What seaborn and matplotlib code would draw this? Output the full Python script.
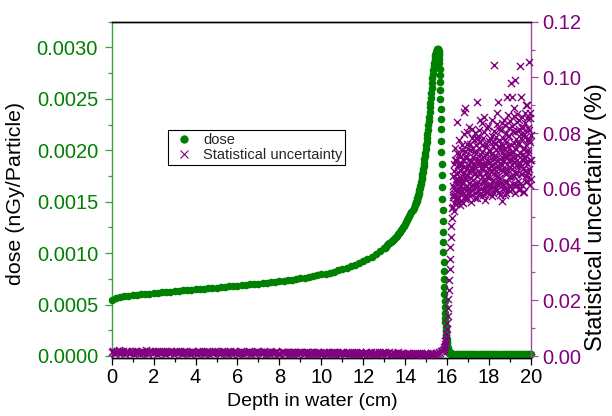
import numpy as np
import pandas as pd
import seaborn as sns
import matplotlib
matplotlib.use("Agg")
import matplotlib.pyplot as plt
from matplotlib.ticker import MultipleLocator, FormatStrFormatter
from matplotlib.lines import Line2D

# ---------------- data ----------------
# dose, units nGy/Particle
dose_depth_a = np.round(np.arange(0.0, 12.81, 0.2), 2)        # 65 pts
dose_a = [5.40e-4, 5.66e-4, 5.76e-4, 5.82e-4, 5.87e-4, 5.91e-4, 5.95e-4, 5.99e-4, 6.03e-4, 6.07e-4,
          6.11e-4, 6.15e-4, 6.19e-4, 6.22e-4, 6.26e-4, 6.30e-4, 6.33e-4, 6.37e-4, 6.41e-4, 6.44e-4,
          6.48e-4, 6.51e-4, 6.55e-4, 6.58e-4, 6.62e-4, 6.65e-4, 6.69e-4, 6.72e-4, 6.76e-4, 6.79e-4,
          6.83e-4, 6.87e-4, 6.91e-4, 6.95e-4, 6.99e-4, 7.03e-4, 7.07e-4, 7.11e-4, 7.15e-4, 7.19e-4,
          7.24e-4, 7.30e-4, 7.36e-4, 7.42e-4, 7.48e-4, 7.55e-4, 7.61e-4, 7.68e-4, 7.75e-4, 7.83e-4,
          7.92e-4, 8.01e-4, 8.11e-4, 8.21e-4, 8.32e-4, 8.45e-4, 8.58e-4, 8.72e-4, 8.87e-4, 9.04e-4,
          9.22e-4, 9.42e-4, 9.64e-4, 9.89e-4, 10.16e-4]
dose_depth_b = np.round(np.arange(13.0, 14.501, 0.05), 2)      # 31 pts
dose_b = [10.45e-4, 10.54e-4, 10.64e-4, 10.74e-4, 10.84e-4, 10.94e-4, 11.05e-4, 11.15e-4, 11.26e-4, 11.37e-4,
          11.48e-4, 11.60e-4, 11.71e-4, 11.83e-4, 11.95e-4, 12.08e-4, 12.21e-4, 12.36e-4, 12.52e-4, 12.68e-4,
          12.85e-4, 13.03e-4, 13.21e-4, 13.40e-4, 13.59e-4, 13.79e-4, 14.00e-4, 14.21e-4, 14.43e-4, 14.66e-4,
          14.90e-4]
dose_depth_c = np.round(np.arange(14.52, 15.561, 0.02), 2)     # 53 pts
dose_c = [15.00e-4, 15.10e-4, 15.21e-4, 15.33e-4, 15.47e-4, 15.61e-4, 15.77e-4, 15.93e-4, 16.11e-4, 16.30e-4,
          16.50e-4, 16.71e-4, 16.93e-4, 17.17e-4, 17.41e-4, 17.67e-4, 17.93e-4, 18.21e-4, 18.50e-4, 18.80e-4,
          19.11e-4, 19.43e-4, 19.77e-4, 20.11e-4, 20.47e-4, 20.83e-4, 21.21e-4, 21.60e-4, 22.00e-4, 22.41e-4,
          22.83e-4, 23.27e-4, 23.71e-4, 24.17e-4, 24.63e-4, 25.11e-4, 25.60e-4, 26.10e-4, 26.58e-4, 27.03e-4,
          27.45e-4, 27.83e-4, 28.18e-4, 28.50e-4, 28.78e-4, 29.03e-4, 29.25e-4, 29.43e-4, 29.58e-4, 29.70e-4,
          29.78e-4, 29.83e-4, 29.85e-4]
dose_depth_d = np.round(np.arange(15.57, 16.201, 0.01), 2)     # 64 pts
dose_d = [29.84e-4, 29.78e-4, 29.66e-4, 29.48e-4, 29.22e-4, 28.88e-4, 28.45e-4, 27.93e-4, 27.32e-4, 26.62e-4,
          25.84e-4, 24.98e-4, 24.05e-4, 23.06e-4, 22.02e-4, 20.94e-4, 19.83e-4, 18.70e-4, 17.56e-4, 16.42e-4,
          15.29e-4, 14.18e-4, 13.10e-4, 12.05e-4, 11.04e-4, 10.08e-4, 9.16e-4, 8.29e-4, 7.48e-4, 6.72e-4,
          6.01e-4, 5.36e-4, 4.76e-4, 4.21e-4, 3.71e-4, 3.26e-4, 2.85e-4, 2.48e-4, 2.15e-4, 1.86e-4,
          1.60e-4, 1.37e-4, 1.17e-4, 0.99e-4, 0.85e-4, 0.74e-4, 0.64e-4, 0.56e-4, 0.50e-4, 0.44e-4,
          0.39e-4, 0.35e-4, 0.32e-4, 0.30e-4, 0.28e-4, 0.27e-4, 0.26e-4, 0.25e-4, 0.25e-4, 0.24e-4,
          0.24e-4, 0.24e-4, 0.23e-4, 0.23e-4]
dose_depth_e = np.round(np.arange(16.3, 20.001, 0.1), 2)       # 38 pts
dose_e = [0.23e-4, 0.23e-4, 0.22e-4, 0.22e-4, 0.22e-4, 0.22e-4, 0.22e-4, 0.21e-4, 0.21e-4, 0.21e-4,
          0.21e-4, 0.21e-4, 0.21e-4, 0.21e-4, 0.20e-4, 0.20e-4, 0.20e-4, 0.20e-4, 0.20e-4, 0.20e-4,
          0.20e-4, 0.20e-4, 0.20e-4, 0.20e-4, 0.19e-4, 0.19e-4, 0.19e-4, 0.19e-4, 0.19e-4, 0.19e-4,
          0.19e-4, 0.19e-4, 0.19e-4, 0.19e-4, 0.19e-4, 0.19e-4, 0.19e-4, 0.19e-4]

# statistical uncertainty, %
unc_depth_a = np.round(np.arange(0.0, 15.801, 0.1), 2)         # 159 pts
unc_a = [0.0016, 0.0012, 0.0015, 0.0013, 0.0017, 0.0014, 0.0011, 0.0015, 0.0016, 0.0013,
         0.0014, 0.0017, 0.0012, 0.0015, 0.0013, 0.0016, 0.0014, 0.0012, 0.0015, 0.0017,
         0.0013, 0.0014, 0.0016, 0.0012, 0.0015, 0.0013, 0.0016, 0.0014, 0.0011, 0.0015,
         0.0014, 0.0016, 0.0013, 0.0015, 0.0012, 0.0014, 0.0016, 0.0013, 0.0015, 0.0012,
         0.0015, 0.0013, 0.0014, 0.0016, 0.0012, 0.0014, 0.0013, 0.0015, 0.0011, 0.0014,
         0.0013, 0.0015, 0.0012, 0.0014, 0.0016, 0.0013, 0.0014, 0.0012, 0.0015, 0.0013,
         0.0014, 0.0012, 0.0015, 0.0013, 0.0011, 0.0014, 0.0013, 0.0015, 0.0012, 0.0014,
         0.0013, 0.0014, 0.0012, 0.0015, 0.0013, 0.0011, 0.0014, 0.0012, 0.0013, 0.0015,
         0.0012, 0.0013, 0.0014, 0.0011, 0.0013, 0.0012, 0.0014, 0.0013, 0.0010, 0.0013,
         0.0012, 0.0014, 0.0011, 0.0013, 0.0012, 0.0010, 0.0013, 0.0012, 0.0014, 0.0011,
         0.0012, 0.0011, 0.0013, 0.0010, 0.0012, 0.0011, 0.0013, 0.0012, 0.0010, 0.0012,
         0.0011, 0.0012, 0.0010, 0.0012, 0.0011, 0.0009, 0.0012, 0.0011, 0.0010, 0.0011,
         0.0010, 0.0012, 0.0010, 0.0011, 0.0009, 0.0011, 0.0010, 0.0009, 0.0011, 0.0010,
         0.0009, 0.0010, 0.0011, 0.0009, 0.0010, 0.0009, 0.0010, 0.0008, 0.0010, 0.0009,
         0.0009, 0.0008, 0.0010, 0.0009, 0.0008, 0.0009, 0.0008, 0.0009, 0.0008, 0.0009,
         0.0008, 0.0009, 0.0008, 0.0009, 0.0009, 0.0010, 0.0013, 0.0017, 0.0022]
unc_depth_a2 = np.round(np.arange(0.05, 15.76, 0.1), 2)        # 158 pts
unc_a2 = [0.0019, 0.0009, 0.0017, 0.0020, 0.0010, 0.0018, 0.0008, 0.0019, 0.0011, 0.0017,
          0.0009, 0.0019, 0.0016, 0.0008, 0.0018, 0.0010, 0.0020, 0.0009, 0.0017, 0.0011,
          0.0018, 0.0008, 0.0019, 0.0010, 0.0017, 0.0009, 0.0018, 0.0011, 0.0019, 0.0008,
          0.0017, 0.0010, 0.0018, 0.0008, 0.0019, 0.0011, 0.0016, 0.0009, 0.0018, 0.0010,
          0.0008, 0.0018, 0.0010, 0.0017, 0.0009, 0.0019, 0.0008, 0.0016, 0.0010, 0.0018,
          0.0017, 0.0008, 0.0018, 0.0010, 0.0016, 0.0009, 0.0018, 0.0008, 0.0017, 0.0010,
          0.0009, 0.0017, 0.0008, 0.0016, 0.0010, 0.0018, 0.0009, 0.0016, 0.0008, 0.0017,
          0.0016, 0.0008, 0.0017, 0.0009, 0.0015, 0.0008, 0.0016, 0.0010, 0.0017, 0.0008,
          0.0008, 0.0016, 0.0009, 0.0015, 0.0007, 0.0016, 0.0009, 0.0015, 0.0008, 0.0016,
          0.0015, 0.0008, 0.0016, 0.0007, 0.0015, 0.0009, 0.0014, 0.0007, 0.0016, 0.0008,
          0.0007, 0.0015, 0.0008, 0.0014, 0.0007, 0.0015, 0.0008, 0.0014, 0.0007, 0.0015,
          0.0014, 0.0007, 0.0015, 0.0008, 0.0013, 0.0007, 0.0014, 0.0006, 0.0014, 0.0008,
          0.0006, 0.0014, 0.0007, 0.0013, 0.0006, 0.0014, 0.0007, 0.0013, 0.0006, 0.0013,
          0.0013, 0.0006, 0.0013, 0.0007, 0.0012, 0.0006, 0.0013, 0.0006, 0.0012, 0.0007,
          0.0006, 0.0012, 0.0006, 0.0012, 0.0005, 0.0012, 0.0006, 0.0011, 0.0005, 0.0011,
          0.0011, 0.0005, 0.0011, 0.0006, 0.0010, 0.0008, 0.0011, 0.0019]
unc_depth_b = np.round(np.arange(15.84, 16.241, 0.02), 2)      # 21 pts
unc_b = [0.0027, 0.0031, 0.0036, 0.0044, 0.0053, 0.0066, 0.0080, 0.0098, 0.0119, 0.0142,
         0.0171, 0.0203, 0.0236, 0.0274, 0.0311, 0.0349, 0.0392, 0.0426, 0.0468, 0.0497,
         0.0531]
unc_depth_c = np.round(np.arange(16.26, 20.001, 0.02), 2)      # 188 pts
unc_c = [0.0535, 0.0612, 0.0578, 0.0664, 0.0551, 0.0597, 0.0703, 0.0569, 0.0628, 0.0547,
         0.0655, 0.0841, 0.0593, 0.0686, 0.0571, 0.0632, 0.0724, 0.0589, 0.0667, 0.0610,
         0.0558, 0.0694, 0.0627, 0.0741, 0.0585, 0.0652, 0.0603, 0.0877, 0.0679, 0.0564,
         0.0890, 0.0633, 0.0712, 0.0576, 0.0648, 0.0761, 0.0599, 0.0685, 0.0621, 0.0703,
         0.0587, 0.0668, 0.0739, 0.0612, 0.0695, 0.0553, 0.0678, 0.0784, 0.0631, 0.0716,
         0.0601, 0.0689, 0.0776, 0.0569, 0.0657, 0.0729, 0.0781, 0.0622, 0.0913, 0.0648,
         0.0778, 0.0595, 0.0702, 0.0660, 0.0745, 0.0583, 0.0847, 0.0674, 0.0617, 0.0731,
         0.0642, 0.0758, 0.0577, 0.0691, 0.0803, 0.0626, 0.0713, 0.0560, 0.0684, 0.0749,
         0.0609, 0.0725, 0.0661, 0.0819, 0.0594, 0.0700, 0.0638, 0.0771, 0.0582, 0.0695,
         0.0736, 0.0614, 0.0682, 0.0791, 0.0573, 0.0667, 0.0754, 0.0629, 0.0708, 0.1045,
         0.0651, 0.0764, 0.0598, 0.0719, 0.0680, 0.0832, 0.0617, 0.0701, 0.0913, 0.0645,
         0.0774, 0.0588, 0.0693, 0.0742, 0.0621, 0.0810, 0.0669, 0.0557, 0.0728, 0.0685,
         0.0613, 0.0757, 0.0699, 0.0846, 0.0630, 0.0715, 0.0579, 0.0768, 0.0654, 0.0737,
         0.0931, 0.0666, 0.0788, 0.0601, 0.0723, 0.0819, 0.0641, 0.0700, 0.0592, 0.0980,
         0.0756, 0.0931, 0.0673, 0.0808, 0.0619, 0.0734, 0.0861, 0.0647, 0.0710, 0.0585,
         0.0990, 0.0779, 0.0661, 0.0841, 0.0703, 0.0627, 0.0765, 0.0689, 0.0814, 0.0598,
         0.0727, 0.1040, 0.0652, 0.0796, 0.0683, 0.0858, 0.0614, 0.0744, 0.0823, 0.0670,
         0.0711, 0.0589, 0.0786, 0.0872, 0.0648, 0.0759, 0.0695, 0.0902, 0.0627, 0.0740,
         0.0818, 0.0661, 0.1057, 0.0774, 0.0703, 0.0856, 0.0635, 0.0792]
unc_depth_d = np.round(np.arange(16.27, 19.991, 0.02), 2)      # 187 pts
unc_d = [0.0572, 0.0648, 0.0519, 0.0691, 0.0603, 0.0745, 0.0581, 0.0634, 0.0702, 0.0559,
         0.0617, 0.0728, 0.0566, 0.0659, 0.0775, 0.0598, 0.0687, 0.0541, 0.0713, 0.0640,
         0.0684, 0.0593, 0.0756, 0.0622, 0.0548, 0.0709, 0.0661, 0.0797, 0.0575, 0.0735,
         0.0642, 0.0568, 0.0719, 0.0805, 0.0611, 0.0676, 0.0587, 0.0743, 0.0659, 0.0823,
         0.0695, 0.0574, 0.0762, 0.0638, 0.0701, 0.0816, 0.0596, 0.0669, 0.0747, 0.0615,
         0.0731, 0.0652, 0.0584, 0.0799, 0.0677, 0.0610, 0.0758, 0.0566, 0.0706, 0.0789,
         0.0623, 0.0693, 0.0812, 0.0579, 0.0726, 0.0655, 0.0767, 0.0601, 0.0688, 0.0835,
         0.0708, 0.0592, 0.0671, 0.0783, 0.0637, 0.0859, 0.0614, 0.0722, 0.0657, 0.0592,
         0.0762, 0.0643, 0.0701, 0.0587, 0.0826, 0.0674, 0.0739, 0.0615, 0.0697, 0.0784,
         0.0659, 0.0725, 0.0602, 0.0848, 0.0687, 0.0633, 0.0770, 0.0584, 0.0717, 0.0806,
         0.0693, 0.0609, 0.0787, 0.0663, 0.0739, 0.0596, 0.0871, 0.0682, 0.0627, 0.0755,
         0.0640, 0.0815, 0.0706, 0.0578, 0.0762, 0.0689, 0.0621, 0.0837, 0.0716, 0.0601,
         0.0781, 0.0668, 0.0603, 0.0744, 0.0829, 0.0657, 0.0720, 0.0586, 0.0799, 0.0690,
         0.0625, 0.0753, 0.0866, 0.0679, 0.0612, 0.0791, 0.0706, 0.0845, 0.0648, 0.0731,
         0.0684, 0.0601, 0.0827, 0.0716, 0.0649, 0.0889, 0.0695, 0.0766, 0.0618, 0.0803,
         0.0652, 0.0744, 0.0870, 0.0613, 0.0722, 0.0807, 0.0679, 0.0596, 0.0761, 0.0848,
         0.0690, 0.0619, 0.0782, 0.0931, 0.0706, 0.0655, 0.0819, 0.0724, 0.0587, 0.0797,
         0.0745, 0.0838, 0.0663, 0.0710, 0.0901, 0.0625, 0.0776, 0.0689, 0.0853, 0.0641,
         0.0728, 0.0811, 0.0672, 0.0767, 0.0615, 0.0874, 0.0703]

x_label = "Depth in water (cm)"
y1_label = "dose (nGy/Particle)"
y2_label = "Statistical uncertainty (%)"
legend_labels = ["dose", "Statistical uncertainty"]

dose_df = pd.DataFrame({
    "depth": np.concatenate([dose_depth_a, dose_depth_b, dose_depth_c, dose_depth_d, dose_depth_e]),
    "dose": np.concatenate([dose_a, dose_b, dose_c, dose_d, dose_e]),
})
unc_df = pd.DataFrame({
    "depth": np.concatenate([unc_depth_a, unc_depth_a2, unc_depth_b, unc_depth_c, unc_depth_d]),
    "unc": np.concatenate([unc_a, unc_a2, unc_b, unc_c, unc_d]),
})

# ---------------- style ----------------
sns.set_style("white")
plt.rcParams["font.family"] = ["Liberation Sans", "DejaVu Sans"]

GREEN = "#008000"
GREEN_SPINE = "#3f9f3f"
PURPLE = "#800080"
PURPLE_SPINE = "#a04ca0"

fig = plt.figure(figsize=(6.12, 4.16), dpi=100)
fig.patch.set_facecolor("white")
ax = fig.add_axes([111.7 / 612, 1 - 358 / 416, (531 - 111.7) / 612, (358 - 21.7) / 416])
ax2 = ax.twinx()

sns.scatterplot(data=dose_df, x="depth", y="dose", ax=ax, color=GREEN, marker="o",
                s=30, linewidth=0, legend=False, clip_on=False, zorder=3)
sns.scatterplot(data=unc_df, x="depth", y="unc", ax=ax2, color=PURPLE, marker="x",
                s=26, linewidth=1.0, legend=False, clip_on=False, zorder=3)

# axes limits and ticks
ax.set_xlim(0, 20)
ax.set_ylim(-0.00002, 0.00325)
ax2.set_ylim(-0.0007, 0.12)

ax.xaxis.set_major_locator(MultipleLocator(2))
ax.xaxis.set_minor_locator(MultipleLocator(1))
ax.yaxis.set_major_locator(MultipleLocator(0.0005))
ax.yaxis.set_minor_locator(MultipleLocator(0.00025))
ax.yaxis.set_major_formatter(FormatStrFormatter("%.4f"))
ax2.yaxis.set_major_locator(MultipleLocator(0.02))
ax2.yaxis.set_minor_locator(MultipleLocator(0.01))
ax2.yaxis.set_major_formatter(FormatStrFormatter("%.2f"))

# spines
for sp in list(ax.spines.values()) + list(ax2.spines.values()):
    sp.set_linewidth(1.0)
    sp.set_color("black")
ax.spines["right"].set_visible(False)
ax.spines["left"].set_color(GREEN_SPINE)
ax2.spines["left"].set_visible(False)
ax2.spines["right"].set_color(PURPLE_SPINE)

# tick styling
ax.tick_params(axis="x", which="major", direction="out", length=5, width=0.9,
               labelsize=14.5, pad=2, colors="black", bottom=True, top=False)
ax.tick_params(axis="x", which="minor", direction="out", length=3, width=0.9,
               bottom=True, top=False, colors="black")
ax2.tick_params(axis="x", which="both", direction="in", top=True, bottom=False,
                labeltop=False, labelbottom=False, width=0.9)
ax2.tick_params(axis="x", which="major", length=5)
ax2.tick_params(axis="x", which="minor", length=3)

ax.tick_params(axis="y", which="major", direction="out", length=5, width=0.9,
               labelsize=14.5, pad=4.8, color=GREEN_SPINE, labelcolor=GREEN,
               left=True, right=False)
ax.tick_params(axis="y", which="minor", direction="out", length=3, width=0.9,
               color=GREEN_SPINE, left=True, right=False)
ax2.tick_params(axis="y", which="major", direction="out", length=5, width=0.9,
                labelsize=14.5, pad=3.4, color=PURPLE_SPINE, labelcolor=PURPLE,
                right=True, left=False)
ax2.tick_params(axis="y", which="minor", direction="out", length=3, width=0.9,
                color=PURPLE_SPINE, right=True, left=False)

# labels
ax.set_xlabel(x_label, fontsize=14, color="black")
ax.xaxis.set_label_coords(0.478, -0.104)
ax.set_ylabel(y1_label, fontsize=15.4, color="black")
ax.yaxis.set_label_coords(-0.207, 0.49)
ax2.set_ylabel(y2_label, fontsize=17, color="black")
ax2.yaxis.set_label_coords(1.129, 0.42)

# legend
handles = [
    Line2D([], [], linestyle="none", marker="o", markersize=6, color=GREEN, markeredgewidth=0),
    Line2D([], [], linestyle="none", marker="x", markersize=5.5, color=PURPLE, markeredgewidth=0.8),
]
leg = ax2.legend(handles, legend_labels, loc="upper left",
                 bbox_to_anchor=(168 / 612, 1 - 130 / 416), bbox_transform=fig.transFigure,
                 fontsize=10.5, frameon=True, fancybox=False, shadow=False, framealpha=1,
                 borderpad=0.2, labelspacing=0.1, handlelength=1.8, handletextpad=0.4,
                 borderaxespad=0)
leg.get_frame().set_edgecolor("black")
leg.get_frame().set_linewidth(0.8)

fig.savefig("out.png", dpi=100, facecolor="white")
